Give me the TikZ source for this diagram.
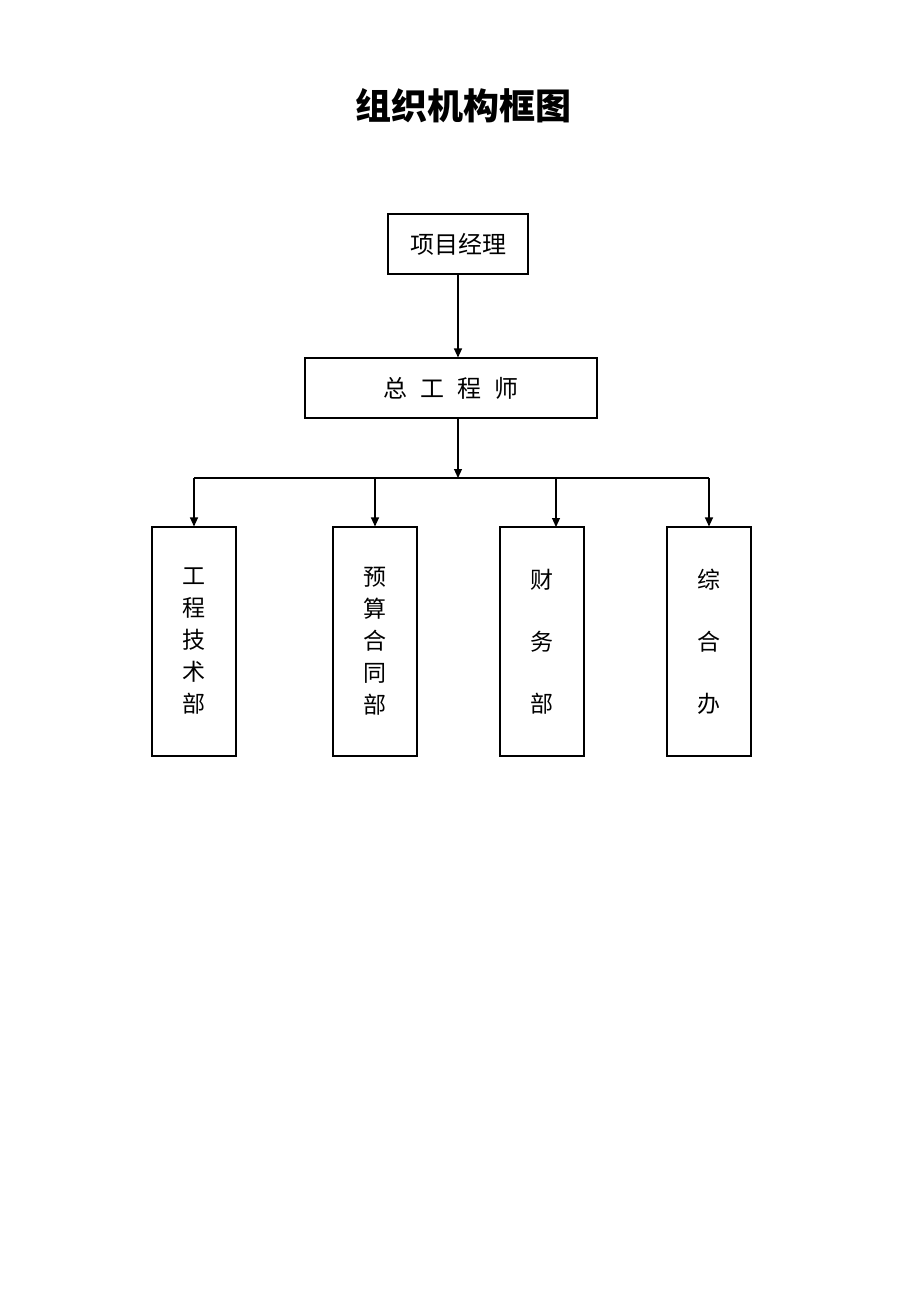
\documentclass[tikz,border=0pt]{standalone}
\usepackage{fontspec}
\newfontfamily\cjk{Noto Sans CJK SC}
\usetikzlibrary{arrows.meta,positioning}

\begin{document}
\begin{tikzpicture}[x=1pt,y=-1pt,line width=1.1pt,
            >={Triangle[width=8pt,length=9pt]},
            box/.style={draw,inner sep=0pt,font=\cjk\fontsize{24}{28}\selectfont},
            dept/.style={draw,inner sep=0pt,minimum width=84pt,minimum height=229pt,
              align=center,font=\cjk\fontsize{23}{32}\selectfont},
            deptwide/.style={dept,font=\cjk\fontsize{23}{62}\selectfont}]
            \useasboundingbox (0,0) rectangle (920,1302);
            \node[font=\cjk\bfseries\fontsize{36}{40}\selectfont] (title) at (463,106) {组织机构框图};
            \node[box,minimum width=140pt,minimum height=60pt] (xmjl) at (458,244) {项目经理};
            \node[box,minimum width=292pt,minimum height=60pt] (zgcs) at (451,388)
              {\spaceskip=13pt\relax 总 工 程 师};
            \node[dept] (gcjs) at (194,641.5) {工\\程\\技\\术\\部};
            \node[dept] (ysht) at (375,641.5) {预\\算\\合\\同\\部};
            \node[deptwide] (cwb) at (542,641.5) {财\\务\\部};
            \node[deptwide] (zhb) at (709,641.5) {综\\合\\办};
            \coordinate (fork) at (458,478);
            \coordinate (cwtop) at (556,527);
            \draw[->](xmjl.south)--(xmjl.south |- zgcs.north);
            \draw[->](fork |- zgcs.south)--(fork);
            \draw(gcjs.north |- fork)--(zhb.north |- fork);
            \foreach \d in {gcjs,ysht,zhb}
              \draw[->](\d.north |- fork)--(\d.north);
            \draw[->](cwtop |- fork)--(cwtop);
          \end{tikzpicture}
\end{document}
